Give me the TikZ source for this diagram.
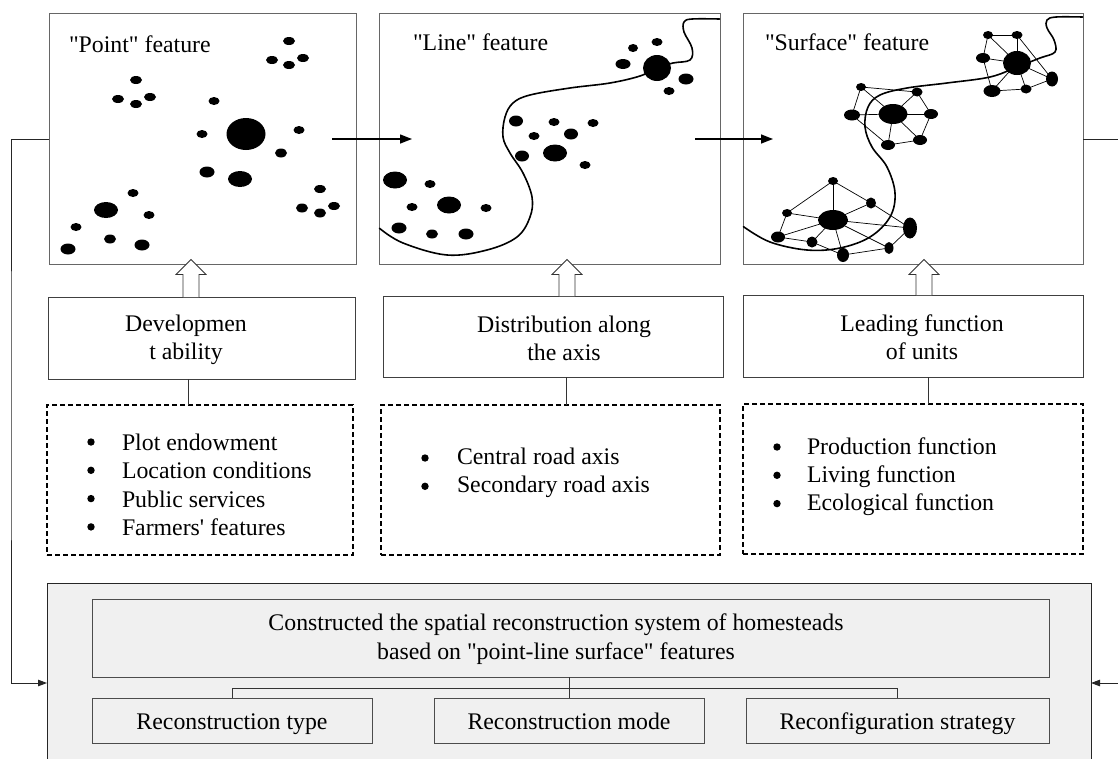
\documentclass[tikz,border=0pt]{standalone}
\usepackage{fontspec}
\setmainfont{Liberation Serif}
\usetikzlibrary{arrows.meta,calc}
% hollow up-arrow: #1 x-coordinate name, #2 lower node, #3 upper node
\newcommand\hollowup[3]{%
  \draw[hollow] ($(#2.north -| #1)+(-8,0)$) -- ($(#3.south -| #1)+(-8,10)$)
     -- ($(#3.south -| #1)+(-15,10)$) -- ($(#3.south -| #1)+(0,-5)$)
     -- ($(#3.south -| #1)+(15,10)$) -- ($(#3.south -| #1)+(8,10)$)
     -- ($(#2.north -| #1)+(8,0)$);}
\newcommand\qq{\textquotedbl}
\begin{document}
\begin{tikzpicture}[x=1pt,y=-1pt,
  every node/.style={font=\fontsize{23.8}{28.3}\selectfont, inner sep=0pt, outer sep=0pt},
  panel/.style={draw=black!60, line width=0.9pt},
  midbox/.style={draw=black!75, line width=0.9pt},
  dashbox/.style={draw=black, line width=1.8pt, dash pattern=on 5pt off 3pt},
  botbox/.style={draw=black!70, line width=0.9pt, fill=black!6},
  subbox/.style={botbox, text height=17pt, text depth=0pt},
  outerbox/.style={draw=black!85, line width=0.9pt, fill=black!6},
  road/.style={line width=1.6pt, line cap=round},
  netedge/.style={line width=0.7pt},
  flow/.style={line width=1.4pt, -{Triangle[length=12pt,width=9pt]}},
  fb/.style={draw=black!85, line width=0.9pt},
  fbarrow/.style={fb, -{Triangle[length=9pt,width=6.5pt]}},
  hollow/.style={draw=black!80, fill=white, line width=0.8pt},
  conn/.style={draw=black!80, line width=0.8pt},
  lbl/.style={align=center},
  listtext/.style={align=left, anchor=west}
]
\useasboundingbox (0,0) rectangle (1118,758);
\clip (0,0) rectangle (1118,758);

% ---------- top panels ----------
\node[panel, minimum width=307, minimum height=251] (p1) at (202.5,139) {};
\node[panel, minimum width=341, minimum height=251] (p2) at (549.5,139) {};
\node[panel, minimum width=340, minimum height=251] (p3) at (913,139) {};
\node[anchor=west] (p1t) at (69,44) {\qq Point\qq{} feature};
\node[anchor=west] (p2t) at (413,42) {\qq Line\qq{} feature};
\node[anchor=west] (p3t) at (765,42) {\qq Surface\qq{} feature};

% panel 1 dots
\foreach \x/\y/\a/\b in {289/41/6/4, 272/60/6/4, 289/65/6/4, 303/58/6/4,
  136/80/6/4, 118/99/6/4, 136/104/6/4, 150/97/6/4,
  214/101/5.5/4, 202/134/5.5/4, 246/134/19.5/16, 299/130/5.5/4, 281/153/6/4.5,
  207/172/7.5/5.5, 240/179/12/8,
  320/189/6/4, 302/208/6/4.5, 320/213/6/4.5, 334/206/6/4,
  133/193/5.5/4, 106/210/12/8, 149/215/5.5/4, 76/227/5.5/4, 110/239/6/4.5,
  142/245/7.5/5.5, 68/249/7.5/5.5}
  {\fill (\x,\y) ellipse [x radius=\a*1pt, y radius=\b*1pt];}

% panel 2 road and dots
\draw[road] plot[smooth, tension=0.6] coordinates {(379.5,228.3) (403,243) (447,255) (487,250)
  (517,237) (530,217) (532,197) (523,173) (510,153) (503,137) (505,117) (513,103) (530,95)
  (570,88) (610,83) (640,76) (657,68) (673,63) (690,60) (692,48) (684,32) (684,22) (692,19) (719.5,19)};
\foreach \x/\y/\a/\b in {657/42/5.5/4, 633/48/5/4, 623/64/7.5/5, 657/68/14/13, 686/79/7.5/5.5, 669/91/5.5/4,
  516/121/7/5.5, 554/122/5.5/4, 593/123/5.5/4, 534/136/5.5/4, 571/134/7/5.5, 522/156/7/5.5,
  555/153/12/8.5, 585/165/5.5/4,
  395/180/12/8.5, 430/184/5.5/4, 449/205/12/8.5, 412/207/5.5/4, 486/208/5.5/4,
  399/228/7.5/5.5, 432/234/6/4.5, 466/234/7.5/5.5}
  {\fill (\x,\y) ellipse [x radius=\a*1pt, y radius=\b*1pt];}

% panel 3 networks
\foreach \n/\x/\y in {A0/1017/63, A1/988/35, A2/1017/35, A3/1052/79, A4/1026/89, A5/992/91, A6/983/58,
  B0/893/114, B1/861/87, B2/917/92, B3/931/114, B4/920/140, B5/888/145, B6/852/115,
  C0/833/220, C1/833/181, C2/871/203, C3/910/228, C4/889/248, C5/843/255, C6/812/242, C7/778/237, C8/787/213}
  {\coordinate (\n) at (\x,\y);}
\foreach \u/\v in {A0/A1, A0/A2, A0/A3, A0/A4, A0/A5, A0/A6, A1/A2, A2/A3, A3/A4, A4/A5, A5/A6, A6/A1,
  B0/B1, B0/B2, B0/B3, B0/B4, B0/B5, B0/B6, B1/B2, B2/B3, B3/B4, B4/B5, B5/B6, B6/B1,
  C0/C1, C0/C2, C0/C3, C0/C4, C0/C5, C0/C6, C0/C7, C0/C8, C8/C1, C1/C2, C2/C3, C3/C4, C4/C5, C5/C6, C6/C7, C7/C8}
  {\draw[netedge] (\u) -- (\v);}
\draw[road] plot[smooth, tension=0.6] coordinates {(743.5,226.7) (770,242) (807,250) (840,248) (870,237)
  (890,217) (895,193) (887,167) (872,147) (865,127) (868,107) (880,95) (907,88) (947,83) (990,77)
  (1017,67) (1040,58) (1055,52) (1054,40) (1047,28) (1047,20) (1056,17) (1082.5,17)};
\foreach \n/\a/\b in {A0/14/12, A1/5/4, A2/5.5/4, A3/6/7.5, A4/5.5/4.5, A5/8.5/6, A6/7/5,
  B0/14.5/10, B1/5/4, B2/5.5/4.5, B3/7/5, B4/7/5, B5/7/5, B6/8/5.5,
  C0/15/10, C1/5/4, C2/5/5.5, C3/7/10.5, C4/4.5/6, C5/6/7, C6/5.5/5.5, C7/7/5.5, C8/5/4}
  {\fill (\n) ellipse [x radius=\a*1pt, y radius=\b*1pt];}

% arrows between panels
\draw[flow] ([xshift=-24pt]p1.east) -- ([xshift=33pt]p2.west);
\draw[flow] ([xshift=-25pt]p2.east) -- ([xshift=30pt]p3.west);

% ---------- middle boxes ----------
\node[midbox, minimum width=307, minimum height=82] (b1) at (201.5,338) {};
\node[midbox, minimum width=340, minimum height=81] (b2) at (553,336.5) {};
\node[midbox, minimum width=340, minimum height=82] (b3) at (913,336) {};
\node[lbl] (b1t) at (186,340) {Developmen\\t ability};
\node[lbl] (b2t) at (564,338.5) {Distribution along\\the axis};
\node[lbl] (b3t) at (922,337) {Leading function\\of units};

\coordinate (h1) at (191,0);
\coordinate (h2) at (567,0);
\coordinate (h3) at (924,0);
\hollowup{h1}{b1}{p1}
\hollowup{h2}{b2}{p2}
\hollowup{h3}{b3}{p3}

% ---------- dashed boxes ----------
\node[dashbox, minimum width=306, minimum height=150] (d1) at (200,480) {};
\node[dashbox, minimum width=339, minimum height=150] (d2) at (550.5,480) {};
\node[dashbox, minimum width=340, minimum height=150] (d3) at (913,479) {};

\coordinate (c1) at (188,0);
\coordinate (c2) at (566,0);
\coordinate (c3) at (928,0);
\draw[conn] (b1.south -| c1) -- (d1.north -| c1);
\draw[conn] (b2.south -| c2) -- (d2.north -| c2);
\draw[conn] (b3.south -| c3) -- (d3.north -| c3);

\node[listtext] (l1) at (122,485) {Plot endowment\\Location conditions\\Public services\\Farmers\textquotesingle{} features};
\node[listtext] (l2) at (457,473) {Central road axis\\Secondary road axis};
\node[listtext] (l3) at (807,476.5) {Production function\\Living function\\Ecological function};
\foreach \y in {442,470.3,498.6,526.9} {\fill (91,\y) circle (3.7pt);}
\foreach \y in {458,486.3} {\fill (425,\y) circle (3.7pt);}
\foreach \y in {447,475.3,503.6} {\fill (777,\y) circle (3.7pt);}

% ---------- bottom system ----------
\node[outerbox, minimum width=1044, minimum height=200] (outer) at (569,683) {};
\node[botbox, minimum width=957, minimum height=78] (T) at (570.5,638) {};
\node[lbl] (Tt) at (556,639) {Constructed the spatial reconstruction system of homesteads\\based on \qq point-line surface\qq{} features};
\node[subbox, minimum width=280, minimum height=45] (s1) at (232,720.5) {Reconstruction type};
\node[subbox, minimum width=270, minimum height=45] (s2) at (569,720.5) {Reconstruction mode};
\node[subbox, minimum width=303, minimum height=45] (s3) at (897.5,720.5) {Reconfiguration strategy};
\draw[conn] (T.south -| s2.north) -- (s2.north);
\draw[conn] (s1.north) -- ++(0,-10) -| (s3.north);

% ---------- feedback lines ----------
\coordinate (fbx) at (11,400);
\coordinate (oL) at (47,683);
\coordinate (oR) at (1091,683);
\coordinate (rE1) at (1118,139);
\coordinate (rE2) at (1118,683);
\draw[fbarrow] (p1.west) -| (fbx) |- (oL);
\draw[fb] (p3.east) -- (rE1);
\draw[fbarrow] (rE2) -- (oR);
\end{tikzpicture}
\end{document}
